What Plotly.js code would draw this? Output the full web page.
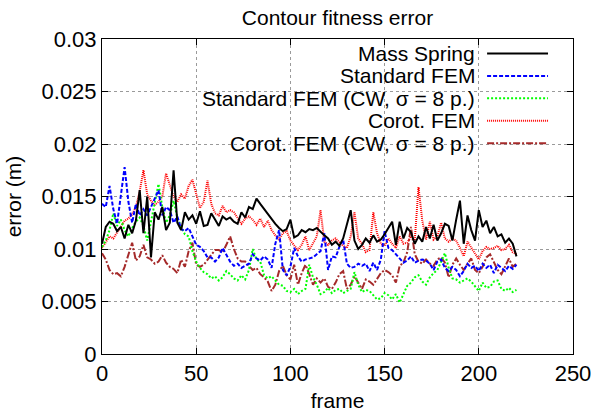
<!DOCTYPE html>
<html>
<head>
<meta charset="utf-8">
<script src="https://cdn.plot.ly/plotly-3.0.1.min.js"></script>
<style>html,body{margin:0;padding:0;background:#fff;}</style>
</head>
<body>
<div id="chart" style="width:593px;height:412px;"></div>
<script>
const frames = [0,2,4,6,8,10,12,14,16,18,20,22,24,26,28,30,32,34,36,38,40,42,44,46,48,50,52,54,56,58,60,62,64,66,68,70,72,74,76,78,80,82,84,86,88,90,92,94,96,98,100,102,104,106,108,110,112,114,116,118,120,122,124,126,128,130,132,134,136,138,140,142,144,146,148,150,152,154,156,158,160,162,164,166,168,170,172,174,176,178,180,182,184,186,188,190,192,194,196,198,200,202,204,206,208,210,212,214,216,218,220];

const massSpring = [0.0105,0.0121,0.0126,0.0124,0.0117,0.0121,0.0110,0.0123,0.0115,0.0127,0.0156,0.0115,0.0150,0.0092,0.0135,0.0128,0.0140,0.0118,0.0125,0.0175,0.0125,0.0118,0.0135,0.0128,0.0132,0.0124,0.0136,0.0122,0.0123,0.0134,0.0128,0.0122,0.0131,0.0128,0.0130,0.0126,0.0124,0.0135,0.0130,0.0140,0.0138,0.0148,0.0143,0.0138,0.0133,0.0128,0.0124,0.0120,0.0117,0.0119,0.0128,0.0111,0.0113,0.0118,0.0116,0.0119,0.0118,0.0120,0.0116,0.0113,0.0110,0.0104,0.0107,0.0103,0.0110,0.0125,0.0137,0.0108,0.0100,0.0104,0.0110,0.0106,0.0113,0.0107,0.0109,0.0114,0.0120,0.0126,0.0104,0.0126,0.0110,0.0120,0.0116,0.0105,0.0112,0.0107,0.0121,0.0110,0.0123,0.0108,0.0115,0.0124,0.0122,0.0108,0.0128,0.0146,0.0105,0.0132,0.0118,0.0108,0.0137,0.0121,0.0127,0.0115,0.0121,0.0112,0.0114,0.0106,0.0110,0.0105,0.0093];

const standardFEM = [0.0143,0.0140,0.0160,0.0138,0.0124,0.0150,0.0178,0.0145,0.0125,0.0143,0.0132,0.0138,0.0132,0.0140,0.0148,0.0156,0.0132,0.0140,0.0137,0.0125,0.0131,0.0119,0.0117,0.0120,0.0112,0.0104,0.0102,0.0098,0.0092,0.0092,0.0088,0.0092,0.0101,0.0095,0.0088,0.0084,0.0086,0.0082,0.0084,0.0086,0.0095,0.0091,0.0089,0.0093,0.0090,0.0082,0.0105,0.0118,0.0080,0.0075,0.0083,0.0101,0.0093,0.0088,0.0090,0.0091,0.0092,0.0095,0.0098,0.0115,0.0080,0.0093,0.0092,0.0102,0.0109,0.0086,0.0082,0.0083,0.0086,0.0084,0.0086,0.0079,0.0087,0.0080,0.0090,0.0117,0.0101,0.0099,0.0095,0.0091,0.0087,0.0089,0.0093,0.0087,0.0089,0.0090,0.0089,0.0086,0.0080,0.0088,0.0090,0.0082,0.0079,0.0083,0.0080,0.0074,0.0079,0.0086,0.0082,0.0084,0.0079,0.0086,0.0082,0.0085,0.0077,0.0085,0.0082,0.0079,0.0084,0.0081,0.0085];

const standardFEMCW = [0.0102,0.0108,0.0118,0.0134,0.0122,0.0128,0.0118,0.0112,0.0120,0.0126,0.0130,0.0122,0.0108,0.0125,0.0145,0.0162,0.0140,0.0125,0.0132,0.0146,0.0130,0.0121,0.0114,0.0112,0.0098,0.0088,0.0082,0.0078,0.0076,0.0072,0.0074,0.0070,0.0073,0.0079,0.0076,0.0072,0.0070,0.0075,0.0071,0.0080,0.0100,0.0090,0.0088,0.0075,0.0072,0.0074,0.0070,0.0066,0.0065,0.0060,0.0059,0.0062,0.0057,0.0060,0.0062,0.0085,0.0073,0.0066,0.0057,0.0059,0.0063,0.0058,0.0061,0.0062,0.0058,0.0060,0.0062,0.0078,0.0066,0.0059,0.0061,0.0060,0.0056,0.0052,0.0053,0.0058,0.0056,0.0052,0.0057,0.0049,0.0057,0.0065,0.0068,0.0073,0.0075,0.0069,0.0066,0.0073,0.0077,0.0080,0.0088,0.0096,0.0082,0.0072,0.0071,0.0068,0.0070,0.0072,0.0069,0.0065,0.0060,0.0068,0.0063,0.0064,0.0069,0.0070,0.0062,0.0060,0.0063,0.0059,0.0061];

const corotFEM = [0.0101,0.0106,0.0112,0.0110,0.0116,0.0122,0.0127,0.0129,0.0133,0.0140,0.0155,0.0175,0.0152,0.0146,0.0142,0.0145,0.0150,0.0172,0.0160,0.0150,0.0145,0.0152,0.0148,0.0160,0.0166,0.0152,0.0139,0.0145,0.0165,0.0143,0.0134,0.0132,0.0141,0.0135,0.0137,0.0135,0.0129,0.0124,0.0129,0.0131,0.0128,0.0123,0.0129,0.0121,0.0127,0.0118,0.0113,0.0109,0.0115,0.0117,0.0108,0.0104,0.0099,0.0104,0.0112,0.0099,0.0105,0.0112,0.0137,0.0107,0.0104,0.0108,0.0110,0.0106,0.0103,0.0101,0.0112,0.0135,0.0110,0.0105,0.0097,0.0099,0.0135,0.0115,0.0105,0.0103,0.0110,0.0105,0.0101,0.0112,0.0105,0.0106,0.0112,0.0108,0.0159,0.0127,0.0109,0.0126,0.0109,0.0112,0.0125,0.0110,0.0107,0.0110,0.0108,0.0101,0.0093,0.0107,0.0101,0.0095,0.0090,0.0098,0.0102,0.0100,0.0101,0.0103,0.0099,0.0100,0.0104,0.0097,0.0095];

const corotFEMCW = [0.0096,0.0090,0.0080,0.0076,0.0077,0.0074,0.0083,0.0095,0.0106,0.0089,0.0093,0.0104,0.0092,0.0090,0.0086,0.0088,0.0094,0.0087,0.0083,0.0081,0.0077,0.0090,0.0083,0.0098,0.0106,0.0085,0.0083,0.0085,0.0090,0.0094,0.0099,0.0099,0.0097,0.0104,0.0112,0.0100,0.0091,0.0088,0.0088,0.0084,0.0080,0.0082,0.0076,0.0073,0.0069,0.0060,0.0066,0.0079,0.0084,0.0075,0.0071,0.0085,0.0066,0.0077,0.0085,0.0076,0.0066,0.0072,0.0068,0.0072,0.0064,0.0062,0.0068,0.0076,0.0079,0.0062,0.0066,0.0074,0.0068,0.0062,0.0071,0.0069,0.0066,0.0072,0.0077,0.0080,0.0078,0.0075,0.0068,0.0084,0.0087,0.0097,0.0121,0.0095,0.0088,0.0086,0.0090,0.0086,0.0084,0.0090,0.0092,0.0087,0.0073,0.0085,0.0091,0.0085,0.0080,0.0086,0.0091,0.0080,0.0077,0.0083,0.0092,0.0095,0.0088,0.0080,0.0076,0.0084,0.0091,0.0083,0.0086];

const seriesNames = ["Mass Spring", "Standard FEM", "Standard FEM (CW, \u03c3 = 8 p.)", "Corot. FEM", "Corot. FEM (CW, \u03c3 = 8 p.)"];
const xTickVals = [0, 50, 100, 150, 200, 250];
const xTickText = ["0", "50", "100", "150", "200", "250"];
const yTickVals = [0, 0.005, 0.01, 0.015, 0.02, 0.025, 0.03];
const yTickText = ["0", "0.005", "0.01", "0.015", "0.02", "0.025", "0.03"];

const seriesData = [massSpring, standardFEM, standardFEMCW, corotFEM, corotFEMCW];
const styles = [
  {color: "#000000", dash: "solid", width: 2},
  {color: "#0000ff", dash: "4px,2px", width: 2},
  {color: "#00ff00", dash: "2px,2px", width: 2},
  {color: "#ff0000", dash: "1px,1px", width: 2},
  {color: "#a52a2a", dash: "7px,2px,2px,2px", width: 2}
];

const FONT = "Liberation Sans, Arial, Helvetica, sans-serif";
const FS = 21;
const TFS = 22;

const traces = seriesData.map((ys, i) => ({
  x: frames, y: ys, type: "scatter", mode: "lines", name: seriesNames[i],
  line: {color: styles[i].color, dash: styles[i].dash, width: styles[i].width},
  showlegend: false, hoverinfo: "skip"
})).reverse();

const M = {l: 101.5, r: 20, t: 38.5, b: 57.5};
const W = 593, H = 412;
const pw = W - M.l - M.r, ph = H - M.t - M.b;
const px2x = p => (p - M.l) / pw;
const py2y = p => (H - M.b - p) / ph;

const rowY = [53, 75.5, 98, 120.5, 143];
const annotations = seriesNames.map((n, i) => ({
  text: n, xref: "paper", yref: "paper", x: px2x(477), y: py2y(rowY[i]),
  xanchor: "right", yanchor: "middle", showarrow: false,
  font: {family: FONT, size: FS, color: "#000"}
}));
const shapes = [{
  type: "rect", xref: "paper", yref: "paper", layer: "between",
  x0: px2x(132), x1: px2x(566), y0: py2y(156), y1: py2y(40),
  fillcolor: "#ffffff", line: {width: 0}
}].concat(seriesNames.map((n, i) => ({
  type: "line", xref: "paper", yref: "paper", layer: "above",
  x0: px2x(487), x1: px2x(548), y0: py2y(rowY[i]), y1: py2y(rowY[i]),
  line: {color: styles[i].color, dash: styles[i].dash, width: styles[i].width}
})));

const axisCommon = {
  showline: true, linecolor: "#000", linewidth: 1, mirror: "allticks",
  ticks: "inside", ticklen: 6, tickcolor: "#000", tickwidth: 1,
  showgrid: true, gridcolor: "#9a9a9a", griddash: "dot", gridwidth: 1,
  zeroline: false, tickfont: {family: FONT, size: TFS, color: "#000"}
};

const layout = {
  width: W, height: H, margin: M,
  paper_bgcolor: "#fff", plot_bgcolor: "#fff",
  font: {family: FONT, size: FS, color: "#000"},
  title: {text: "Contour fitness error", x: 0.5, xref: "paper", y: 1 - 18/H, yref: "container", yanchor: "middle",
    font: {family: FONT, size: FS, color: "#000"}},
  xaxis: Object.assign({}, axisCommon, {range: [0, 250], tickvals: xTickVals, ticktext: xTickText,
    title: {text: "frame", standoff: 7, font: {family: FONT, size: FS}}}),
  yaxis: Object.assign({}, axisCommon, {range: [0, 0.03], tickvals: yTickVals, ticktext: yTickText,
    title: {text: "error (m)", standoff: 14, font: {family: FONT, size: FS}}}),
  showlegend: false,
  annotations: annotations,
  shapes: shapes
};

Plotly.newPlot("chart", traces, layout, {staticPlot: true, displayModeBar: false});
</script>
</body>
</html>
